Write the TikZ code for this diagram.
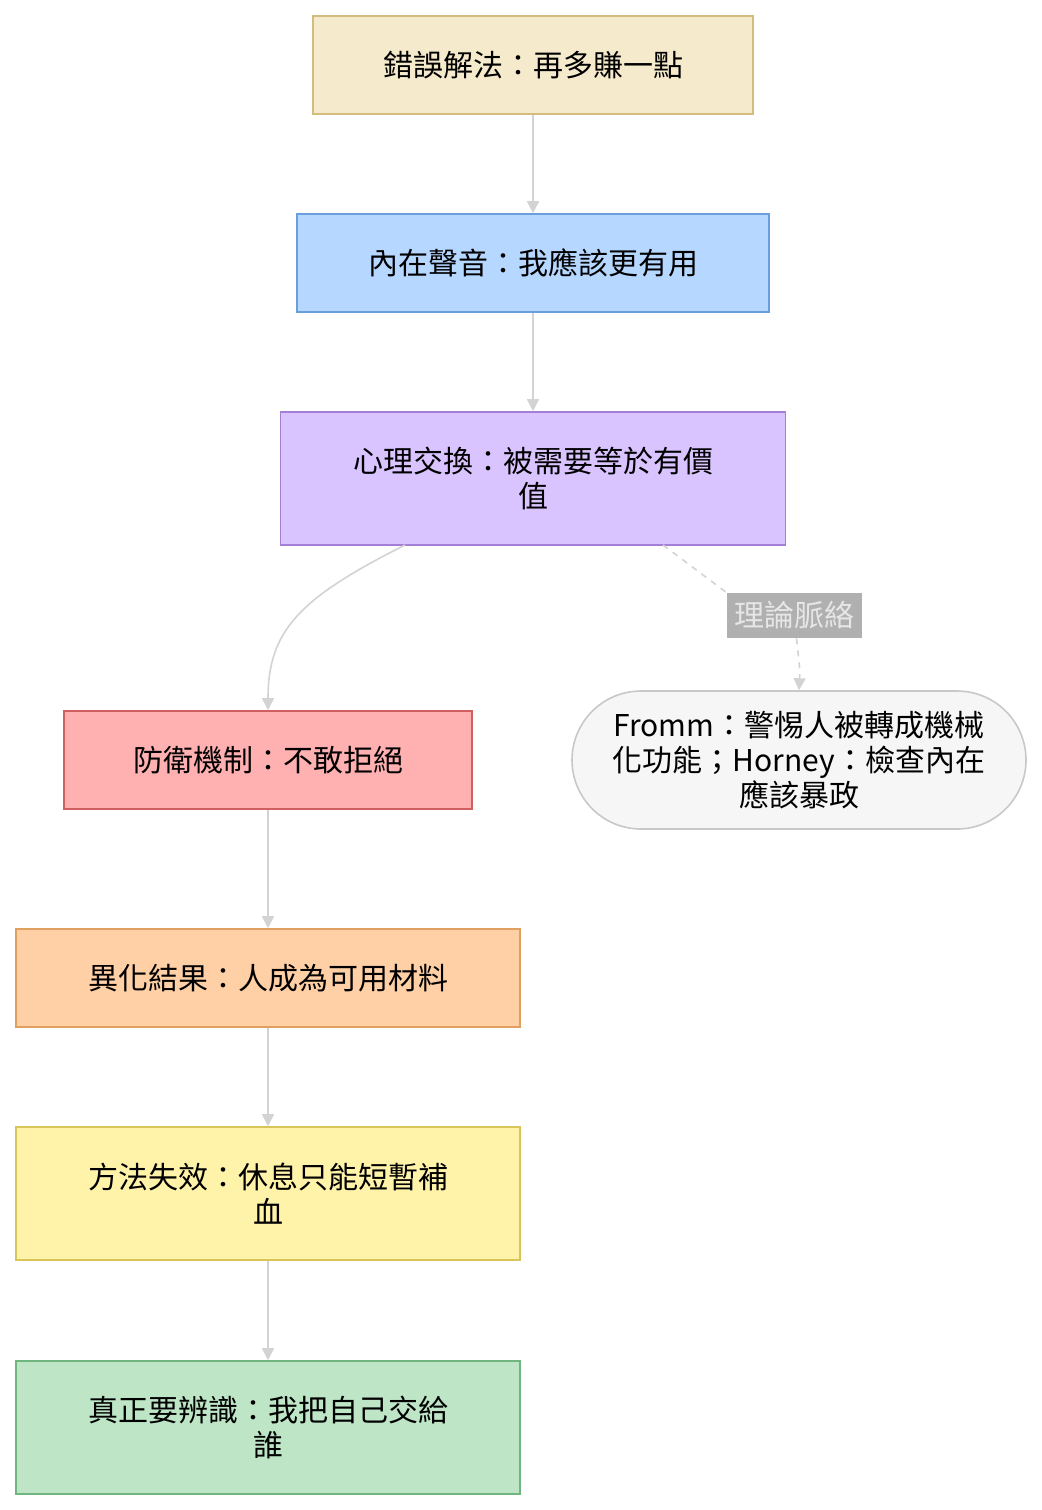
\documentclass[tikz,border=0pt]{standalone}
\usepackage{fontspec}
\setmainfont{Noto Sans CJK TC}
\usetikzlibrary{arrows.meta,shapes.misc}
\definecolor{edge}{HTML}{D3D3D3}
\definecolor{b1}{HTML}{D4BC7E}\definecolor{f1}{HTML}{F5EACB}
\definecolor{b2}{HTML}{6A9FDB}\definecolor{f2}{HTML}{B6D7FF}
\definecolor{b3}{HTML}{A37FD6}\definecolor{f3}{HTML}{DAC4FF}
\definecolor{b4}{HTML}{D06060}\definecolor{f4}{HTML}{FFB0B0}
\definecolor{b5}{HTML}{E0A060}\definecolor{f5}{HTML}{FFD0A6}
\definecolor{b6}{HTML}{D9C45A}\definecolor{f6}{HTML}{FFF3AA}
\definecolor{b7}{HTML}{6FB580}\definecolor{f7}{HTML}{BDE5C6}
\definecolor{b8}{HTML}{C8C8C8}\definecolor{f8}{HTML}{F6F6F6}
\definecolor{lf}{HTML}{B0B0B0}\definecolor{lt}{HTML}{E6E6E6}
\tikzset{
 bx/.style={draw=#1,line width=0.8pt,minimum height=49pt,align=center,font=\fontsize{15}{17.5}\selectfont,inner sep=0pt},
 ar/.style={draw=edge,line width=0.8pt,-{Triangle[length=6pt,width=6pt]}},
}
\begin{document}
\begin{tikzpicture}[x=0.5pt,y=-0.5pt]
\useasboundingbox (0,0) rectangle (1042,1510);
\node[bx=b1,fill=f1,minimum width=220pt] (a) at (533,65) {錯誤解法：再多賺一點};
\node[bx=b2,fill=f2,minimum width=236pt] (b) at (533,263) {內在聲音：我應該更有用};
\node[bx=b3,fill=f3,minimum width=252.5pt,minimum height=66.5pt] (c) at (533,478.5) {心理交換：被需要等於有價\\值};
\node[bx=b4,fill=f4,minimum width=204pt] (d) at (268,760) {防衛機制：不敢拒絕};
\node[bx=b5,fill=f5,minimum width=252pt] (e) at (268,978) {異化結果：人成為可用材料};
\node[bx=b6,fill=f6,minimum width=252pt,minimum height=66.5pt] (f) at (268,1193.5) {方法失效：休息只能短暫補\\血};
\node[bx=b7,fill=f7,minimum width=252pt,minimum height=66.5pt] (g) at (268,1427.5) {真正要辨識：我把自己交給\\誰};
\node[bx=b8,fill=f8,rounded rectangle,minimum width=227pt,minimum height=69pt] (h) at (799,760) {Fromm：警惕人被轉成機械\\化功能；Horney：檢查內在\\應該暴政};
\node[fill=lf,text=lt,font=\fontsize{15}{17}\selectfont,inner sep=2pt,minimum width=67.5pt,minimum height=22.5pt] (l) at (794.5,615.5) {理論脈絡};
\draw[ar] (a) -- (b);
\draw[ar] (b) -- (c);
\coordinate (c1) at (405,545);
\draw[ar] (c1) .. controls (300,598) and (268,630) .. (d.north);
\coordinate (c2) at (663,545);
\draw[draw=edge,line width=0.8pt,dashed] (c2) -- (l.north west);
\draw[ar,dashed] ([xshift=1pt]l.south) .. controls (800,670) .. (h.north);
\draw[ar] (d) -- (e);
\draw[ar] (e) -- (f);
\draw[ar] (f) -- (g);
\end{tikzpicture}
\end{document}
